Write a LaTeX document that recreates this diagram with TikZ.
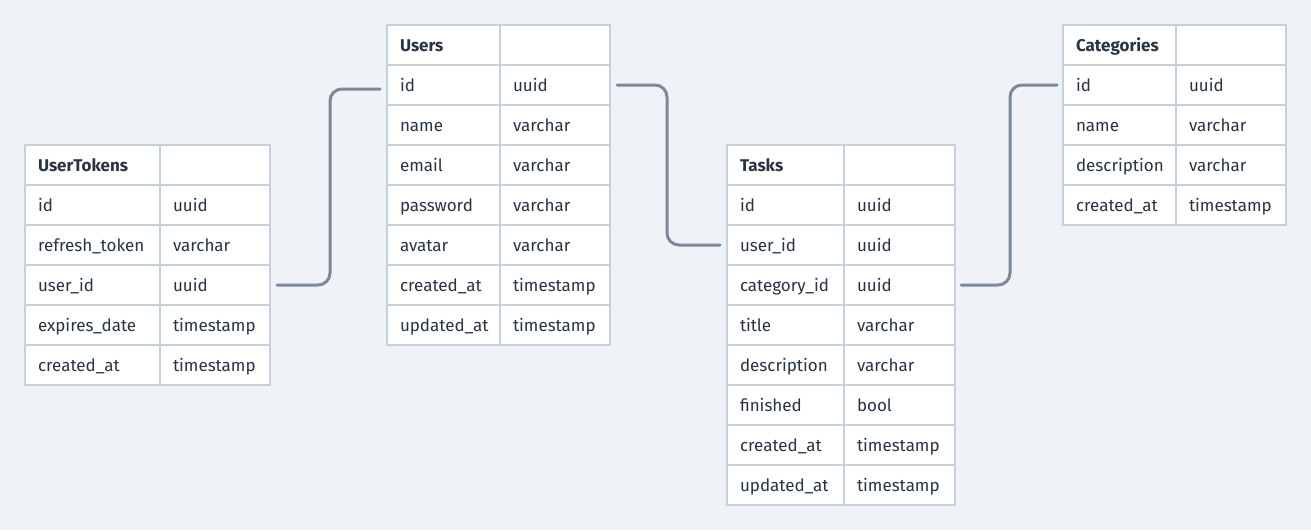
\documentclass[tikz,border=0pt]{standalone}
\usepackage{fontspec}
\setmainfont{Fira Sans}
\usetikzlibrary{calc}
\definecolor{bgcol}{HTML}{EFF3F7}
\definecolor{gridcol}{HTML}{C5D2DD}
\definecolor{inkcol}{HTML}{283444}
\definecolor{linkcol}{HTML}{7B8A9A}
\tikzstyle{cell}=[rectangle, fill=white, draw=gridcol, line width=2pt, outer sep=0pt, minimum height=40pt, inner xsep=13pt, inner ysep=0pt, text height=14pt, text depth=2pt, anchor=north west, align=left, text=inkcol, font=\fontsize{17}{19}\selectfont]
\tikzstyle{head}=[cell, font=\fontsize{17}{19}\selectfont\bfseries]
\tikzstyle{link}=[draw=linkcol, line width=3pt, rounded corners=12pt, line cap=round]
% name, x, y, left width, right width, title, rows
\newcommand{\dbtable}[7]
{
  \pgfmathsetmacro{\wa}{#4-26}
  \pgfmathsetmacro{\wb}{#5-26}
  \node[head, text width=\wa pt](#1-0-f) at (#2,#3){#6};
  \node[cell, text width=\wb pt](#1-0) at (#2+#4,#3){};
  \foreach \fld/\typ [count=\i] in {#7}{
    \node[cell, text width=\wa pt](#1-\i-f) at (#2,#3+40*\i){\fld};
    \node[cell, text width=\wb pt](#1-\i) at (#2+#4,#3+40*\i){\typ};
  }
}

\begin{document}
\begin{tikzpicture}[x=1pt, y=-1pt]
	\fill[bgcol] (0,0) rectangle (1311,530);
	\useasboundingbox (0,0) rectangle (1311,530);

	\dbtable{ut}{25}{145}{135}{110}{UserTokens}{id/uuid, refresh\_token/varchar, user\_id/uuid, expires\_date/timestamp, created\_at/timestamp}
	\dbtable{users}{387}{25}{113}{110}{Users}{id/uuid, name/varchar, email/varchar, password/varchar, avatar/varchar, created\_at/timestamp, updated\_at/timestamp}
	\dbtable{tasks}{727}{145}{117}{111}{Tasks}{id/uuid, user\_id/uuid, category\_id/uuid, title/varchar, description/varchar, finished/bool, created\_at/timestamp, updated\_at/timestamp}
	\dbtable{cats}{1063}{25}{113}{110}{Categories}{id/uuid, name/varchar, description/varchar, created\_at/timestamp}

	% relations
	\draw[link] ($(ut-3.east)+(7,0)$) -- ++(53,0) |- ($(users-1-f.west)+(-7,4)$);
	\draw[link] ($(users-1.east)+(7,0)$) -- ++(50,0) |- ($(tasks-2-f.west)+(-7,0)$);
	\draw[link] ($(tasks-3.east)+(6,0)$) -- ++(49,0) |- ($(cats-1-f.west)+(-6,0)$);

\end{tikzpicture}
\end{document}
